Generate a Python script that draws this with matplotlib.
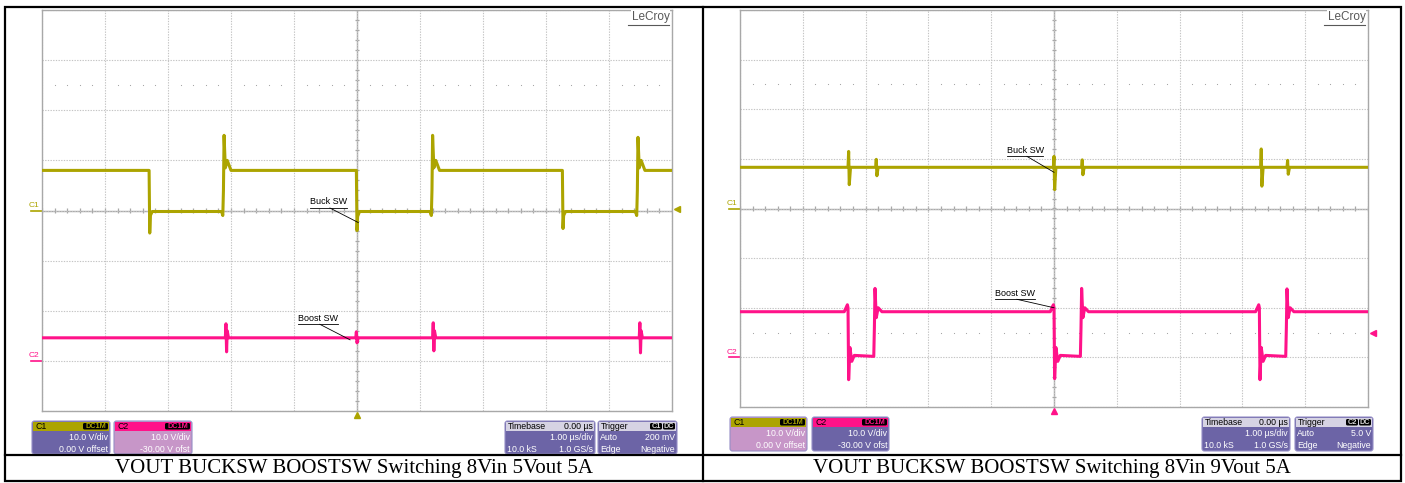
import numpy as np
import matplotlib.pyplot as plt
from matplotlib.patches import FancyBboxPatch, Rectangle
from matplotlib.collections import LineCollection

plt.rcParams["font.family"] = ["Liberation Sans", "DejaVu Sans"]

W, H = 1405, 483

# -----------------------------
# Scope settings
# -----------------------------
C1_COLOR = "#aca400"
C2_COLOR = "#ff1289"
BOX_PURPLE = "#6c64a6"
BOX_LILAC = "#c796c8"
HEAD_GRAY = "#d6d3e3"
GRID_GRAY = "#c4c4c4"
FRAME_GRAY = "#a8a8a8"

VDIV = 10.0        # V/div, both channels
C1_OFFSET = 0.0    # V
C2_OFFSET = -30.0  # V

# -----------------------------
# Traces (time in us, level in V)
# -----------------------------
# 8Vin -> 5Vout
buck_t_a = [-5.00, -3.30, -3.29, -3.28, -3.25, -2.15, -2.13, -2.12, -2.11, -2.09, -2.06, -2.00,
            -0.01, 0.00, 0.01, 0.04, 1.16, 1.18, 1.19, 1.20, 1.22, 1.25, 1.31,
            3.26, 3.27, 3.28, 3.31, 4.42, 4.44, 4.45, 4.46, 4.48, 4.51, 4.57, 5.00]
buck_v_a = [8.0, 8.0, -4.5, -1.0, -0.2, -0.2, -1.0, 4.0, 15.0, 8.5, 10.0, 8.0,
            8.0, -4.0, -1.2, -0.2, -0.2, -1.0, 4.0, 15.0, 8.5, 10.0, 8.0,
            8.0, -3.6, -1.0, -0.2, -0.2, -1.0, 4.0, 14.6, 8.5, 10.0, 8.0, 8.0]

boost_t_a = [-5.00, -2.09, -2.08, -2.07, -2.06, -2.04, -0.02, -0.01, 0.00, 0.02,
             1.20, 1.21, 1.22, 1.23, 1.25, 4.48, 4.49, 4.50, 4.51, 4.53, 5.00]
boost_v_a = [4.6, 4.6, 7.4, 1.8, 6.0, 4.6, 4.6, 5.8, 3.6, 4.6,
             4.6, 7.6, 2.0, 6.0, 4.6, 4.6, 7.6, 1.6, 6.0, 4.6, 4.6]

# 8Vin -> 9Vout
buck_t_b = [-5.00, -3.28, -3.27, -3.26, -3.24, -2.84, -2.83, -2.82, -2.80, -0.01, 0.00, 0.01, 0.03,
            0.44, 0.45, 0.46, 0.48, 3.29, 3.30, 3.31, 3.33, 3.71, 3.72, 3.73, 3.75, 5.00]
buck_v_b = [8.3, 8.3, 11.5, 4.8, 8.3, 8.3, 9.9, 6.6, 8.3, 8.3, 10.5, 3.8, 8.3,
            8.3, 9.8, 6.8, 8.3, 8.3, 12.0, 4.5, 8.3, 8.3, 9.7, 6.9, 8.3, 8.3]

boost_t_b = [-5.00,
             -3.34, -3.29, -3.28, -3.27, -3.25, -3.22, -3.18, -2.87, -2.86, -2.85, -2.83, -2.80, -2.74,
             -0.06, -0.01, 0.00, 0.01, 0.03, 0.06, 0.10, 0.42, 0.43, 0.44, 0.46, 0.49, 0.55,
             3.21, 3.26, 3.27, 3.28, 3.30, 3.33, 3.37, 3.69, 3.70, 3.71, 3.73, 3.76, 3.82,
             5.00]
boost_v_b = [9.2,
             9.2, 10.6, 10.0, -4.5, 2.0, -0.8, 0.4, 0.2, 6.0, 13.9, 8.0, 10.0, 9.2,
             9.2, 10.6, 10.0, -4.3, 2.0, -0.8, 0.4, 0.2, 6.0, 13.9, 8.0, 10.0, 9.2,
             9.2, 10.6, 10.0, -4.5, 2.0, -0.8, 0.4, 0.2, 6.0, 13.8, 8.0, 10.0, 9.2,
             9.2]

captions = ["VOUT BUCKSW BOOSTSW Switching 8Vin 5Vout 5A",
            "VOUT BUCKSW BOOSTSW Switching 8Vin 9Vout 5A"]
c1_rows = ["10.0 V/div", "0.00 V offset"]
c2_rows = ["10.0 V/div", "-30.00 V ofst"]
timebase_rows = [("", "1.00 µs/div"), ("10.0 kS", "1.0 GS/s")]
trigger_rows_a = [("Auto", "200 mV"), ("Edge", "Negative")]
trigger_rows_b = [("Auto", "5.0 V"), ("Edge", "Negative")]

# -----------------------------
# Figure + background axes in pixels
# -----------------------------
fig = plt.figure(figsize=(W / 100, H / 100), dpi=100)
base = fig.add_axes([0, 0, 1, 1], zorder=0)
base.set_xlim(0, W)
base.set_ylim(H, 0)
base.axis("off")


def px_axes(x0, y0, x1, y1):
    return fig.add_axes([x0 / W, 1 - y1 / H, (x1 - x0) / W, (y1 - y0) / H], zorder=1)


def to_div(v, offset):
    return (np.asarray(v) + offset) / VDIV


def scope(ax, trig_y, trig_color, dot_rows):
    ax.set_xlim(-5, 5)
    ax.set_ylim(-4, 4)
    ax.set_xticks(np.arange(-5, 6))
    ax.set_yticks(np.arange(-4, 5))
    ax.tick_params(length=0, labelbottom=False, labelleft=False)
    ax.grid(True, color=GRID_GRAY, lw=0.8, ls=(0, (1.2, 1.2)))
    for s in ax.spines.values():
        s.set_color(FRAME_GRAY)
        s.set_linewidth(1.0)
    ax.axhline(0, color=FRAME_GRAY, lw=1.0, zorder=1)
    ax.axvline(0, color=FRAME_GRAY, lw=1.0, zorder=1)
    xm = np.arange(-5, 5.01, 0.2)
    ym = np.arange(-4, 4.01, 0.2)
    segs = [[(x, -0.045), (x, 0.045)] for x in xm] + [[(-0.035, y), (0.035, y)] for y in ym]
    ax.add_collection(LineCollection(segs, colors=FRAME_GRAY, lw=0.9, zorder=1))
    xd = [x for x in xm if abs(x - round(x)) > 0.05]
    for yr in dot_rows:
        ax.scatter(xd, [yr] * len(xd), s=0.7, color="#a0a0a0", zorder=1, lw=0)
    # trigger markers
    ax.plot([5.08], [trig_y], marker="<", ms=5, color=trig_color, clip_on=False, zorder=5)
    ax.plot([0], [-4.075], marker="^", ms=5, color=trig_color, clip_on=False, zorder=5)
    # channel ground labels
    for lab, y, col in [("C1", to_div(0, C1_OFFSET), C1_COLOR), ("C2", to_div(0, C2_OFFSET), C2_COLOR)]:
        ax.text(-5.04, y + 0.03, lab, color=col, fontsize=6, ha="right", va="bottom", clip_on=False)
        ax.plot([-5.17, -5.0], [y, y], color=col, lw=1.2, clip_on=False)
    # LeCroy logo
    ax.text(4.96, 3.86, "LeCroy", color="#585858", fontsize=8.5, ha="right", va="center",
            bbox=dict(fc="white", ec="none", pad=0.5), zorder=6)
    ax.plot([4.30, 4.96], [3.70, 3.70], color="#585858", lw=0.8, zorder=6)


def label(ax, text, tx, ty, tw, x0, end):
    ax.text(tx, ty + 0.03, text, fontsize=6.5, ha="left", va="bottom", zorder=6)
    ax.plot([tx, tx + tw], [ty, ty], color="black", lw=0.6, zorder=6)
    ax.plot([x0, end[0]], [ty, end[1]], color="black", lw=0.6, zorder=6)


def info_box(x0, y0, x1, y1, head_fc, body_fc, title, title_color, rows,
             head_right=None, badges=(), badge_fg="white"):
    w, h = x1 - x0, y1 - y0
    base.add_patch(FancyBboxPatch((x0, y0), w, h, boxstyle="round,pad=0,rounding_size=2.5",
                                  fc=body_fc, ec="#958ec6", lw=0.8))
    base.add_patch(Rectangle((x0 + 1, y0 + 1), w - 2, 8.5, fc=head_fc, ec="none"))
    base.text(x0 + 3, y0 + 5.5, title, color=title_color, fontsize=6.3, ha="left", va="center")
    if head_right:
        base.text(x1 - 2, y0 + 5.5, head_right, color="black", fontsize=6.3, ha="right", va="center")
    bx = x1 - 2
    for b, bw in reversed(badges):
        base.add_patch(FancyBboxPatch((bx - bw, y0 + 2), bw, 6.5, boxstyle="round,pad=0,rounding_size=1.5",
                                      fc="black", ec="none"))
        base.text(bx - bw / 2, y0 + 5.6, b, color=badge_fg, fontsize=5.3, ha="center", va="center",
                  fontweight="bold")
        bx -= bw + 1
    for i, r in enumerate(rows):
        yy = y0 + 16.5 + i * 11.5
        if isinstance(r, tuple):
            lt, rt = r
            base.text(x0 + 2, yy, lt, color="white", fontsize=6.3, ha="left", va="center")
        else:
            rt = r
        base.text(x1 - 2, yy, rt, color="white", fontsize=6.3, ha="right", va="center")


# -----------------------------
# Left scope: 8Vin 5Vout
# -----------------------------
ax1 = px_axes(42, 10, 672, 411)
scope(ax1, to_div(0.2, C1_OFFSET), C1_COLOR, [2.5])
ax1.plot(boost_t_a, to_div(boost_v_a, C2_OFFSET), color=C2_COLOR, lw=2.2, zorder=3)
ax1.plot(buck_t_a, to_div(buck_v_a, C1_OFFSET), color=C1_COLOR, lw=2.2, zorder=4)
label(ax1, "Buck SW", -0.75, 0.05, 0.59, -0.43, (0.02, -0.24))
label(ax1, "Boost SW", -0.94, -2.27, 0.64, -0.59, (-0.11, -2.58))

# -----------------------------
# Right scope: 8Vin 9Vout
# -----------------------------
ax2 = px_axes(740, 10, 1368, 407)
scope(ax2, to_div(5.0, C2_OFFSET), C2_COLOR, [2.5, -2.5])
ax2.plot(boost_t_b, to_div(boost_v_b, C2_OFFSET), color=C2_COLOR, lw=2.2, zorder=3)
ax2.plot(buck_t_b, to_div(buck_v_b, C1_OFFSET), color=C1_COLOR, lw=2.2, zorder=4)
label(ax2, "Buck SW", -0.75, 1.05, 0.57, -0.43, (0.0, 0.73))
label(ax2, "Boost SW", -0.94, -1.83, 0.64, -0.59, (0.0, -2.0))

# -----------------------------
# Info boxes
# -----------------------------
info_box(32, 421, 110, 454, C1_COLOR, BOX_PURPLE, "C1", "black", c1_rows,
         badges=[("DC1M", 25)], badge_fg=C1_COLOR)
info_box(114, 421, 192, 454, C2_COLOR, BOX_LILAC, "C2", "black", c2_rows,
         badges=[("DC1M", 25)], badge_fg=C2_COLOR)
info_box(505, 421, 595, 454, HEAD_GRAY, BOX_PURPLE, "Timebase", "black", timebase_rows,
         head_right="0.00 µs")
info_box(598, 421, 677, 454, HEAD_GRAY, BOX_PURPLE, "Trigger", "black", trigger_rows_a,
         badges=[("C1", 12), ("DC", 12)], badge_fg="#d8d8d8")

info_box(730, 417, 807, 451, C1_COLOR, BOX_LILAC, "C1", "black", c1_rows,
         badges=[("DC1M", 25)], badge_fg=C1_COLOR)
info_box(812, 417, 889, 451, C2_COLOR, BOX_PURPLE, "C2", "black", c2_rows,
         badges=[("DC1M", 25)], badge_fg=C2_COLOR)
info_box(1202, 417, 1290, 451, HEAD_GRAY, BOX_PURPLE, "Timebase", "black", timebase_rows,
         head_right="0.00 µs")
info_box(1295, 417, 1373, 451, HEAD_GRAY, BOX_PURPLE, "Trigger", "black", trigger_rows_b,
         badges=[("C2", 12), ("DC", 12)], badge_fg="#d8d8d8")

# -----------------------------
# Table frame + captions
# -----------------------------
base.add_patch(Rectangle((5, 7), 1396, 474, fc="none", ec="black", lw=1.6, zorder=10))
base.plot([703, 703], [7, 481], color="black", lw=1.6, zorder=10)
base.plot([5, 1401], [455, 455], color="black", lw=1.6, zorder=10)
base.text(354, 468.5, captions[0], fontsize=15, family="Liberation Serif", ha="center", va="center")
base.text(1052, 468.5, captions[1], fontsize=15, family="Liberation Serif", ha="center", va="center")

fig.savefig("out.png", dpi=100)
